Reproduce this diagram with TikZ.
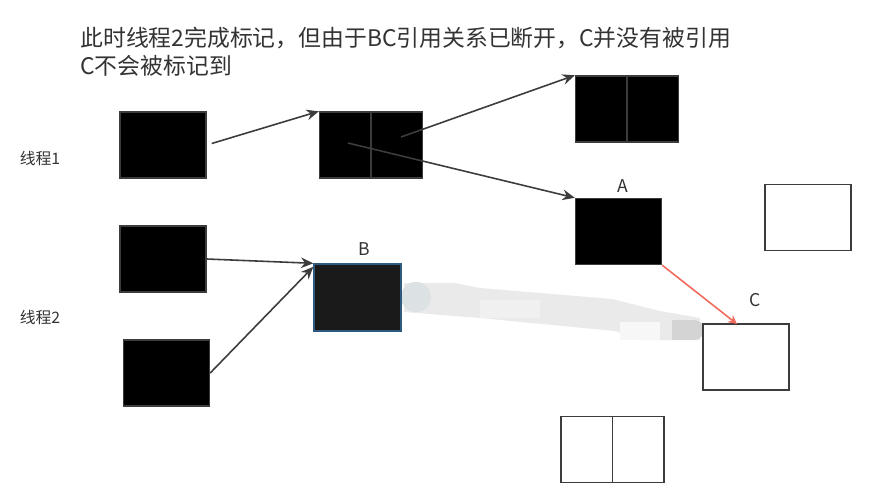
\documentclass[tikz,border=0pt]{standalone}
\usepackage{fontspec}
\setmainfont{Noto Sans CJK SC}
\usetikzlibrary{arrows.meta}
\definecolor{edgegray}{HTML}{3C3C3C}
\definecolor{textgray}{HTML}{333333}
\definecolor{blockfill}{HTML}{000000}
\definecolor{bfill}{HTML}{1A1A1A}
\definecolor{bedge}{HTML}{2E5A80}
\definecolor{refred}{HTML}{F06B5C}
\definecolor{smudge}{HTML}{EAEAEA}
\definecolor{smudgeend}{HTML}{D4D4D4}
\definecolor{smudgestart}{HTML}{DCE1E4}
\newcommand{\splitbar}[1]{%
	\draw[edgegray, line width=0.8pt] (#1.north) -- (#1.south);
}
\tikzset{
	obj/.style={draw=edgegray, line width=0.8pt, fill=blockfill, minimum width=1.72cm, minimum height=1.32cm, inner sep=0pt},
	wideobj/.style={obj, minimum width=2.06cm},
	freeobj/.style={obj, fill=white},
	ref/.style={edgegray, line width=0.9pt, -{Stealth[length=7pt, width=6pt]}},
	tag/.style={font=\fontsize{10}{12}\selectfont, text=textgray, inner sep=0pt}
}
\begin{document}
\begin{tikzpicture}[x=0.02cm,y=-0.02cm]
	% Fixed white canvas.
	\path[use as bounding box] (0,0) rectangle (883,501);
	\fill[white] (0,0) rectangle (883,501);

	% Caption.
	\node[anchor=west, font=\fontsize{13}{16}\selectfont, text=textgray, inner sep=0pt] (cap1) at (80,38)
		{此时线程2完成标记，但由于BC引用关系已断开，C并没有被引用};
	\node[anchor=west, font=\fontsize{13}{16}\selectfont, text=textgray, inner sep=0pt] (cap2) at (80,66)
		{C不会被标记到};

	% Thread labels.
	\node[tag, font=\fontsize{9}{11}\selectfont] (th1) at (40,158) {线程1};
	\node[tag, font=\fontsize{9}{11}\selectfont] (th2) at (40,317) {线程2};

	% Erased reference B -> C (drawn first, the boxes sit on top).
	\fill[smudge] (404,283) -- (455,283) -- (480,288) -- (612,299) -- (660,311) -- (700,318)
		-- (700,340) -- (640,340) -- (615,331) -- (480,318) -- (404,312) -- cycle;
	\fill[gray!12] (480,300) rectangle (540,318);
	\fill[white!60!smudge] (620,322) rectangle (660,340);
	\fill[smudgeend] (672,320) rectangle (694,340);
	\fill[smudgeend] (694,330) circle[radius=0.2cm];
	\fill[smudgestart] (412,282) rectangle (420,312);
	\fill[smudgestart] (416,297) circle[radius=0.3cm];

	% Objects reached by thread 1.
	\node[obj] (r1) at (163,145) {};
	\node[wideobj] (r1next) at (371,145) {};
	\splitbar{r1next}
	\node[wideobj] (top) at (627,109) {};
	\splitbar{top}
	\node[obj] (A) at (618.5,231.5) {};
	\node[tag] (Alabel) at (623,186) {A};

	% Objects reached by thread 2.
	\node[obj] (r2) at (163,259) {};
	\node[obj] (r3) at (166.5,373) {};
	\node[obj, fill=bfill, draw=bedge, minimum width=1.74cm, minimum height=1.34cm] (B) at (357.5,297.5) {};
	\node[tag] (Blabel) at (364,249) {B};

	% Unmarked objects.
	\node[freeobj] (free1) at (808,217.5) {};
	\node[freeobj] (C) at (746,357) {};
	\node[tag] (Clabel) at (755,300) {C};
	\node[wideobj, fill=white] (free2) at (612.5,449.5) {};
	\splitbar{free2}

	% References.
	\coordinate (p1) at (401,137);
	\coordinate (p2) at (348,143);
	\coordinate (cin) at (737,324);
	\draw[ref, shorten <=3pt] (r1.east) -- (r1next.north west);
	\draw[ref] (p1) -- (top.north west);
	\draw[ref] (p2) -- (A.north west);
	\draw[ref] (r2.east) -- (B.north west);
	\draw[ref] (r3.east) -- ([yshift=-2pt]B.north west);
	\draw[refred, line width=0.9pt, -{Stealth[length=5pt, width=5pt]}] (A.south east) -- (cin);
\end{tikzpicture}
\end{document}
